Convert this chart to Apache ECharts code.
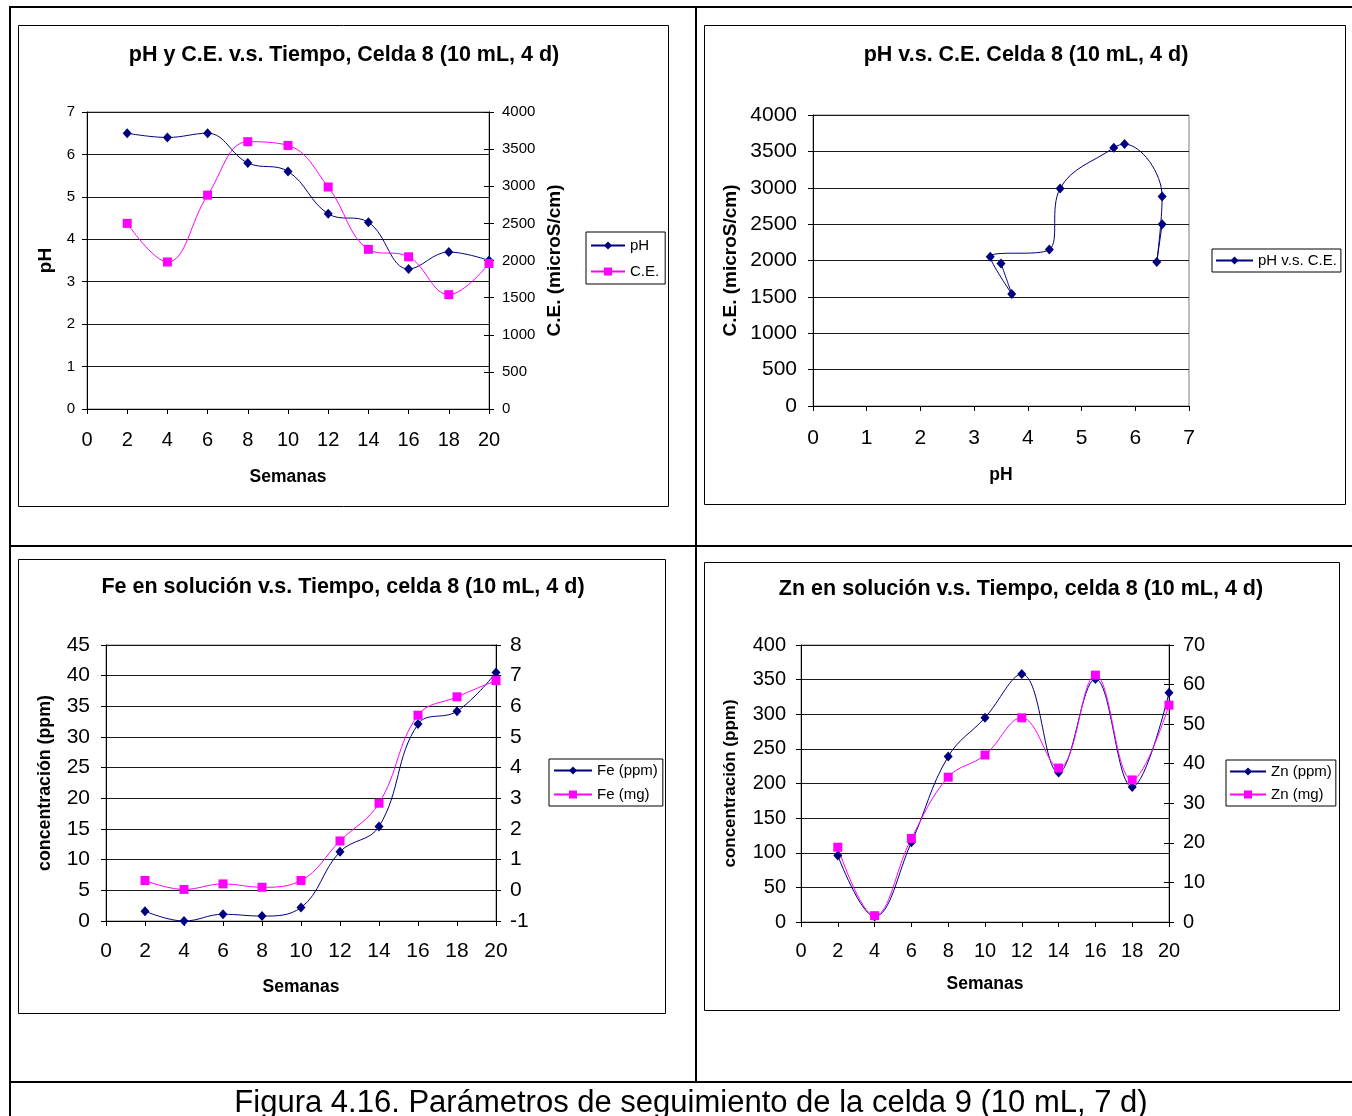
<!DOCTYPE html>
<html>
<head>
<meta charset="utf-8">
<script src="https://cdn.jsdelivr.net/npm/echarts@6/dist/echarts.min.js"></script>
<style>
html,body{margin:0;padding:0;background:#fff;}
#chart{width:1352px;height:1116px;}
</style>
</head>
<body>
<div id="chart"></div>
<script>
// ---- data ----
const weeks = [2, 4, 6, 8, 10, 12, 14, 16, 18, 20];
const phValues = [6.5, 6.4, 6.5, 5.8, 5.6, 4.6, 4.4, 3.3, 3.7, 3.5];
const ceValues = [2500, 1980, 2880, 3600, 3550, 2990, 2150, 2050, 1540, 1960];
const feppm = [1.6, 0, 1.1, 0.8, 2.2, 11.3, 15.4, 32.1, 34.2, 40.5];
const femg = [0.32, 0.03, 0.21, 0.10, 0.32, 1.61, 2.84, 5.71, 6.31, 6.84];
const znppm = [96, 8, 115, 239, 295, 358, 216, 351, 195, 331];
const znmg = [18.9, 1.6, 21.1, 36.6, 42.2, 51.6, 38.9, 62.4, 35.9, 54.8];

const titles = [
  'pH y C.E. v.s. Tiempo, Celda 8 (10 mL, 4 d)',
  'pH v.s. C.E. Celda 8 (10 mL, 4 d)',
  'Fe en solución v.s. Tiempo, celda 8 (10 mL, 4 d)',
  'Zn en solución v.s. Tiempo, celda 8 (10 mL, 4 d)'
];
const caption = 'Figura 4.16. Parámetros de seguimiento de la celda 9 (10 mL, 7 d)';

// ---- styling helpers ----
const FONT = '"Liberation Sans", Arial, Helvetica, sans-serif';
const NAVY = '#000080', MAG = '#FF00FF';
const GRIDC = '#1a1a1a';
const plain = v => String(v);

function pairs(xs, ys) { return xs.map((x, i) => [x, ys[i]]); }

function xAx(grid, min, max, interval, fs, margin, name, nameGap) {
  return {
    type: 'value', gridIndex: grid, min, max, interval, position: 'bottom',
    axisLine: { show: true, onZero: false, lineStyle: { color: '#000', width: 1 } },
    axisTick: { show: true, length: 5, lineStyle: { color: '#000' } },
    axisLabel: { fontSize: fs, color: '#000', fontFamily: FONT, margin, formatter: plain },
    splitLine: { show: false },
    name, nameLocation: 'middle', nameGap,
    nameTextStyle: { fontSize: 17.5, fontWeight: 'bold', color: '#000', fontFamily: FONT }
  };
}
function yAx(grid, pos, min, max, interval, fs, margin, split, name, nameGap, nameSize) {
  return {
    type: 'value', gridIndex: grid, position: pos, min, max, interval,
    axisLine: { show: true, onZero: false, lineStyle: { color: '#000', width: 1 } },
    axisTick: { show: true, length: 5, lineStyle: { color: '#000' } },
    axisLabel: { fontSize: fs, color: '#000', fontFamily: FONT, margin, formatter: plain },
    splitLine: { show: split, lineStyle: { color: GRIDC, width: 1 } },
    name: name || '', nameLocation: 'middle', nameGap: nameGap || 0,
    nameTextStyle: { fontSize: nameSize || 17, fontWeight: 'bold', color: '#000', fontFamily: FONT }
  };
}
// duplicate right axis drawing the inner half of "cross" ticks
function yCross(grid, min, max, interval) {
  return {
    type: 'value', gridIndex: grid, position: 'right', min, max, interval,
    axisLine: { show: true, onZero: false, lineStyle: { color: '#000', width: 1 } },
    axisTick: { show: true, inside: true, length: 5, lineStyle: { color: '#000' } },
    axisLabel: { show: false }, splitLine: { show: false }
  };
}
function ser(name, xi, yi, data, color, symbol, size) {
  return {
    name, type: 'line', xAxisIndex: xi, yAxisIndex: yi, data,
    smooth: 0.4, symbol, symbolSize: size, showSymbol: true, clip: false,
    lineStyle: { color, width: 1 }, itemStyle: { color },
    emphasis: { disabled: true }, animation: false
  };
}
function legend(left, top, names, itemWidth, itemGap, padding) {
  return {
    orient: 'vertical', left, top, data: names, selectedMode: false,
    backgroundColor: '#fff', borderColor: '#000', borderWidth: 1, borderRadius: 0,
    padding, itemWidth, itemHeight: 10, itemGap,
    textStyle: { fontSize: 15, color: '#000', fontFamily: FONT }
  };
}
function box(x, y, w, h) {
  return { type: 'rect', shape: { x: x + 0.5, y: y + 0.5, width: w, height: h },
    style: { fill: 'none', stroke: '#000', lineWidth: 1 }, silent: true, z: -10 };
}
function hline(x1, x2, y, w) {
  return { type: 'line', shape: { x1, y1: y, x2, y2: y }, style: { stroke: '#000', lineWidth: w }, silent: true, z: -10 };
}
function vline(x, y1, y2, w) {
  return { type: 'line', shape: { x1: x, y1, x2: x, y2 }, style: { stroke: '#000', lineWidth: w }, silent: true, z: -10 };
}
function txt(x, y, text, size, weight) {
  return { type: 'text', x, y, silent: true, z: 10,
    style: { text, fill: '#000', font: (weight || 'normal') + ' ' + size + 'px ' + FONT,
      align: 'center', verticalAlign: 'middle' } };
}

const chart = echarts.init(document.getElementById('chart'), null, { renderer: 'canvas', width: 1352, height: 1116 });

const gridBase = { show: true, backgroundColor: 'transparent', borderColor: '#808080', borderWidth: 1, containLabel: false, outerBoundsMode: 'none' };

const option = {
  animation: false,
  backgroundColor: '#fff',
  grid: [
    Object.assign({ left: 87, top: 112, width: 402, height: 297 }, gridBase),
    Object.assign({ left: 813, top: 115, width: 376, height: 291 }, gridBase),
    Object.assign({ left: 106, top: 645, width: 390, height: 276 }, gridBase),
    Object.assign({ left: 801, top: 645, width: 368, height: 277 }, gridBase)
  ],
  xAxis: [
    xAx(0, 0, 20, 2, 20, 21, 'Semanas', 59),
    xAx(1, 0, 7, 1, 21, 22, 'pH', 60),
    xAx(2, 0, 20, 2, 21, 20, 'Semanas', 57),
    xAx(3, 0, 20, 2, 20, 19, 'Semanas', 53)
  ],
  yAxis: [
    yAx(0, 'left', 0, 7, 1, 15, 12, true, 'pH', 32, 19),
    yAx(0, 'right', 0, 4000, 500, 15, 13, false, 'C.E. (microS/cm)', 56, 19),
    yCross(0, 0, 4000, 500),
    yAx(1, 'left', 0, 4000, 500, 21, 16, true, 'C.E. (microS/cm)', 73, 19),
    yAx(2, 'left', 0, 45, 5, 21, 16, true, 'concentración (ppm)', 52, 17.8),
    yAx(2, 'right', -1, 8, 1, 21, 14, false),
    yCross(2, -1, 8, 1),
    yAx(3, 'left', 0, 400, 50, 20, 15, true, 'concentración (ppm)', 62, 17),
    yAx(3, 'right', 0, 70, 10, 20, 14, false),
    yCross(3, 0, 70, 10)
  ],
  legend: [
    legend(586, 232, ['pH', 'C.E.'], 34, 11, [6, 6, 5, 4]),
    legend(1212, 249, ['pH v.s. C.E.'], 37, 10, [4, 4, 4, 3]),
    legend(549, 759, ['Fe (ppm)', 'Fe (mg)'], 38, 9, [4, 5, 4, 4]),
    legend(1226, 760, ['Zn (ppm)', 'Zn (mg)'], 36, 8, [4, 4, 4, 3])
  ],
  series: [
    ser('pH', 0, 0, pairs(weeks, phValues), NAVY, 'diamond', [9, 10]),
    ser('C.E.', 0, 1, pairs(weeks, ceValues), MAG, 'rect', 9),
    ser('pH v.s. C.E.', 1, 3, pairs(phValues, ceValues), NAVY, 'diamond', [9, 10]),
    ser('Fe (ppm)', 2, 4, pairs(weeks, feppm), NAVY, 'diamond', [9, 10]),
    ser('Fe (mg)', 2, 5, pairs(weeks, femg), MAG, 'rect', 9),
    ser('Zn (ppm)', 3, 7, pairs(weeks, znppm), NAVY, 'diamond', [9, 10]),
    ser('Zn (mg)', 3, 8, pairs(weeks, znmg), MAG, 'rect', 9)
  ],
  graphic: [
    // table lines
    hline(9, 1352, 7, 2),
    vline(10, 7, 1116, 2),
    vline(696, 7, 1082, 2),
    hline(9, 1352, 546, 2),
    hline(9, 1352, 1082, 2),
    // chart frames
    box(18, 25, 650, 481),
    box(704, 25, 641, 479),
    box(18, 559, 647, 454),
    box(704, 562, 635, 448),
    // titles and caption
    txt(344, 55, titles[0], 21.5, 'bold'),
    txt(1026, 55, titles[1], 21.5, 'bold'),
    txt(343, 587, titles[2], 21.5, 'bold'),
    txt(1021, 589, titles[3], 21.5, 'bold'),
    txt(691, 1103, caption, 31)
  ]
};
chart.setOption(option);
</script>
</body>
</html>
